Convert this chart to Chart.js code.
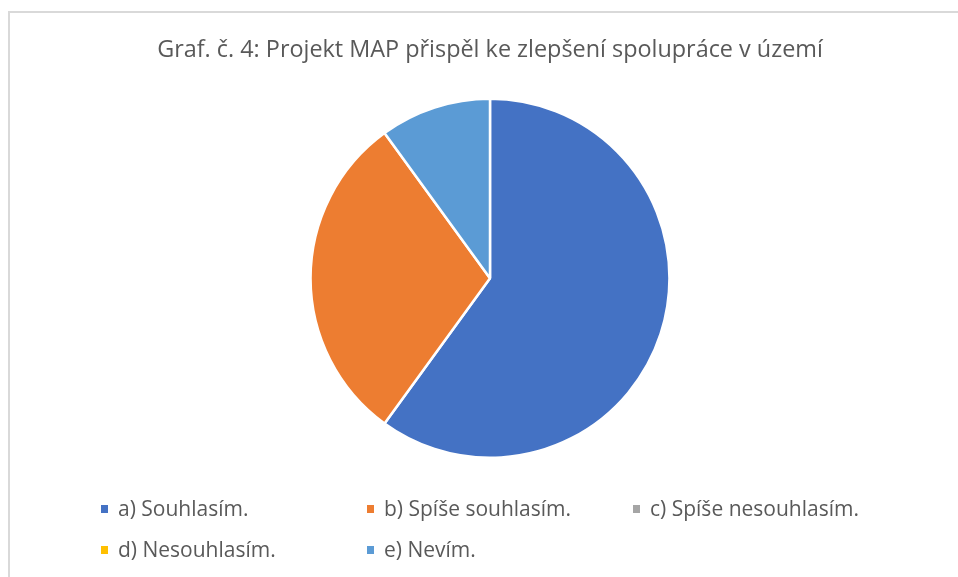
<!DOCTYPE html>
<html>
<head>
<meta charset="utf-8">
<script src="https://cdn.jsdelivr.net/npm/chart.js@4"></script>
<style>
  html, body { margin: 0; padding: 0; background: #fff; overflow: hidden; }
  #wrap { position: absolute; left: 8px; top: 11px; width: 964px; height: 577px; }
</style>
</head>
<body>
<div id="wrap"><canvas id="graf"></canvas></div>
<script>
// data
const labels = ['a) Souhlasím.', 'b) Spíše souhlasím.', 'c) Spíše nesouhlasím.', 'd) Nesouhlasím.', 'e) Nevím.'];
const values = [6, 3, 0, 0, 1];
const colors = ['#4472C4', '#ED7D31', '#A5A5A5', '#FFC000', '#5B9BD5'];
const titleText = 'Graf. č. 4: Projekt MAP přispěl ke zlepšení spolupráce v území';

const FONT = '"Open Sans", Lato, sans-serif';
const TEXT = '#595959';

// rámeček + legenda ve sloupcích jako v Excelu
const excelLook = {
  id: 'excelLook',
  beforeDraw(chart) {
    const ctx = chart.ctx;
    ctx.save();
    ctx.fillStyle = '#d9d9d9';
    ctx.fillRect(0, 0, chart.width, 2);
    ctx.fillRect(0, 0, 2, chart.height);
    ctx.restore();
  },
  afterDraw(chart) {
    const ctx = chart.ctx;
    const colW = 266, x0 = 93, rows = [498, 539];
    ctx.save();
    ctx.font = '21px ' + FONT;
    ctx.textBaseline = 'middle';
    chart.data.labels.forEach((lab, i) => {
      const x = x0 + (i % 3) * colW;
      const y = rows[Math.floor(i / 3)];
      ctx.fillStyle = chart.data.datasets[0].backgroundColor[i];
      ctx.fillRect(x, y - 4, 7, 8);
      ctx.fillStyle = TEXT;
      ctx.fillText(lab, x + 17, y + 1);
    });
    ctx.restore();
  }
};

new Chart(document.getElementById('graf'), {
  type: 'pie',
  data: {
    labels: labels,
    datasets: [{
      data: values,
      backgroundColor: colors,
      borderColor: '#ffffff',
      borderWidth: 2.5
    }]
  },
  options: {
    responsive: true,
    maintainAspectRatio: false,
    animation: false,
    layout: { padding: { top: 0, bottom: 129, left: 0, right: 0 } },
    plugins: {
      legend: { display: false },
      tooltip: { enabled: false },
      title: {
        display: true,
        text: titleText,
        color: TEXT,
        font: { family: FONT, size: 23.4, weight: 'normal', lineHeight: 1.2 },
        padding: { top: 25, bottom: 33.5 }
      }
    }
  },
  plugins: [excelLook]
});
</script>
</body>
</html>
